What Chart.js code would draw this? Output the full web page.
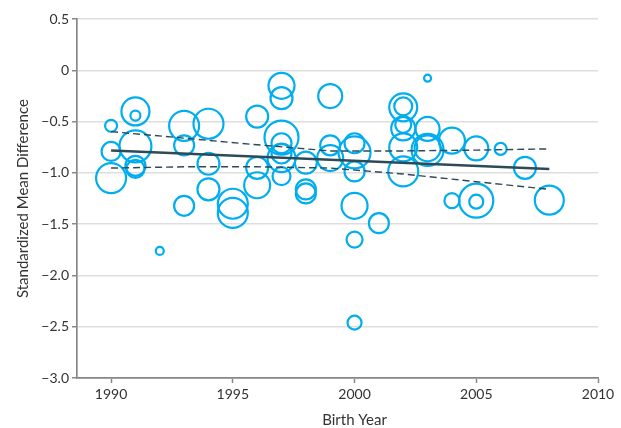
<!DOCTYPE html>
<html>
<head>
<meta charset="utf-8">
<script src="https://cdn.jsdelivr.net/npm/chart.js@4"></script>
<style>
  html, body { margin: 0; padding: 0; background: #fff; }
  #wrap { width: 621px; height: 428px; }
</style>
</head>
<body>
<div id="wrap"><canvas id="c" width="621" height="428"></canvas></div>
<script>
// Study-level data: birth year, standardized mean difference, bubble size (weight)
const birthYears = [
  1990, 1990, 1990,
  1991, 1991, 1991, 1991, 1991,
  1992,
  1993, 1993, 1993,
  1994, 1994, 1994,
  1995, 1995,
  1996, 1996, 1996,
  1997, 1997, 1997, 1997, 1997, 1997, 1997,
  1998, 1998, 1998,
  1999, 1999, 1999,
  2000, 2000, 2000, 2000, 2000, 2000,
  2001,
  2002, 2002, 2002, 2002, 2002, 2002,
  2003, 2003, 2003, 2003,
  2004, 2004,
  2005, 2005, 2005,
  2006,
  2007,
  2008
];
const smdValues = [
  -0.54, -0.79, -1.05,
  -0.40, -0.44, -0.74, -0.93, -0.96,
  -1.76,
  -0.54, -0.73, -1.32,
  -0.52, -0.91, -1.16,
  -1.30, -1.39,
  -0.45, -0.95, -1.12,
  -0.15, -0.27, -0.655, -0.71, -0.81, -0.855, -1.03,
  -0.90, -1.16, -1.20,
  -0.25, -0.73, -0.855,
  -0.71, -0.80, -0.985, -1.32, -1.65, -2.46,
  -1.49,
  -0.36, -0.35, -0.565, -0.53, -0.75, -0.985,
  -0.075, -0.57, -0.775, -0.76,
  -0.685, -1.27,
  -0.76, -1.27, -1.28,
  -0.765,
  -0.95,
  -1.265
];
const studyWeights = [
  6, 9.5, 15,
  14, 5, 16, 10, 9,
  4,
  15, 10, 10,
  15, 11, 11,
  15, 15,
  11, 11, 13,
  13, 11, 17, 10, 10, 14, 9,
  11, 10, 10,
  12, 10, 13,
  10, 16, 10, 13, 8, 7,
  10,
  14, 9, 12, 8, 14, 15,
  3.5, 12, 16, 13,
  13, 7.5,
  12, 17, 7,
  6,
  11,
  14.5
];

// Meta-regression fit and confidence band
const fitYears = [1990, 2008];
const fitValues = [-0.781, -0.962];
const bandYears = [1990, 1993, 1996, 1999, 2002, 2005, 2008];
const bandUpper = [-0.597, -0.66, -0.725, -0.785, -0.785, -0.777, -0.765];
const bandLower = [-0.952, -0.94, -0.94, -0.952, -1.01, -1.085, -1.16];

// Axis ticks
const xTickValues = [1990, 1995, 2000, 2005, 2010];
const yTickValues = [0.5, 0, -0.5, -1.0, -1.5, -2.0, -2.5, -3.0];
const xTitleText = 'Birth Year';
const yTitleText = 'Standardized Mean Difference';

const bubbleData = birthYears.map((x, i) => ({ x: x, y: smdValues[i], r: studyWeights[i] }));
const fitData = fitYears.map((x, i) => ({ x: x, y: fitValues[i] }));
const upperData = bandYears.map((x, i) => ({ x: x, y: bandUpper[i] }));
const lowerData = bandYears.map((x, i) => ({ x: x, y: bandLower[i] }));

const lineColor = '#2d4a57';
const tickFont = { family: 'Lato', size: 14 };

const xTitlePlugin = {
  id: 'xTitlePlugin',
  afterDraw(chart) {
    const ctx = chart.ctx;
    const xs = chart.scales.x;
    ctx.save();
    ctx.font = '15px Lato';
    ctx.fillStyle = '#333';
    ctx.textAlign = 'center';
    ctx.textBaseline = 'middle';
    ctx.fillText(xTitleText, xs.getPixelForValue(2000), 420);
    ctx.restore();
  }
};

new Chart(document.getElementById('c'), {
  type: 'bubble',
  data: {
    datasets: [
      {
        type: 'line',
        data: fitData,
        borderColor: lineColor,
        borderWidth: 2.5,
        pointRadius: 0,
        fill: false,
        order: 0
      },
      {
        type: 'line',
        data: upperData,
        borderColor: lineColor,
        borderWidth: 1.4,
        borderDash: [7, 4],
        pointRadius: 0,
        fill: false,
        order: 0
      },
      {
        type: 'line',
        data: lowerData,
        borderColor: lineColor,
        borderWidth: 1.4,
        borderDash: [7, 4],
        pointRadius: 0,
        fill: false,
        order: 0
      },
      {
        type: 'bubble',
        data: bubbleData,
        backgroundColor: 'rgba(0,0,0,0)',
        borderColor: '#00aeef',
        borderWidth: 2.2,
        hoverRadius: 0,
        order: 1
      }
    ]
  },
  options: {
    responsive: false,
    animation: false,
    events: [],
    layout: { padding: { top: 8, right: 23, left: 0, bottom: 0 } },
    plugins: {
      legend: { display: false },
      tooltip: { enabled: false }
    },
    scales: {
      x: {
        type: 'linear',
        min: 1988.6,
        max: 2010,
        afterBuildTicks(scale) { scale.ticks = xTickValues.map(v => ({ value: v })); },
        afterFit(scale) { scale.height = 50; },
        ticks: {
          font: tickFont,
          color: '#333',
          padding: 3,
          maxRotation: 0,
          callback: v => String(v)
        },
        grid: {
          drawOnChartArea: false,
          drawTicks: true,
          tickLength: 5,
          tickColor: '#888',
          tickWidth: 1.5
        },
        border: { color: '#888', width: 1.7 }
      },
      y: {
        type: 'linear',
        min: -3,
        max: 0.5,
        afterBuildTicks(scale) { scale.ticks = yTickValues.map(v => ({ value: v })); },
        afterFit(scale) { scale.width = 77; scale.paddingTop = 0; },
        ticks: {
          font: tickFont,
          color: '#333',
          padding: 3,
          callback: v => v === 0 ? '0' : (v < 0 ? '\u2212' + Math.abs(v).toFixed(1) : v.toFixed(1))
        },
        grid: {
          color: '#dedede',
          lineWidth: 1.5,
          drawTicks: true,
          tickLength: 5,
          tickColor: '#888',
          tickWidth: 1.5
        },
        border: { color: '#888', width: 1.7 },
        title: {
          display: true,
          text: yTitleText,
          font: { family: 'Lato', size: 15 },
          color: '#333',
          padding: { top: 14, bottom: 0 }
        }
      }
    }
  },
  plugins: [xTitlePlugin]
});
</script>
</body>
</html>
